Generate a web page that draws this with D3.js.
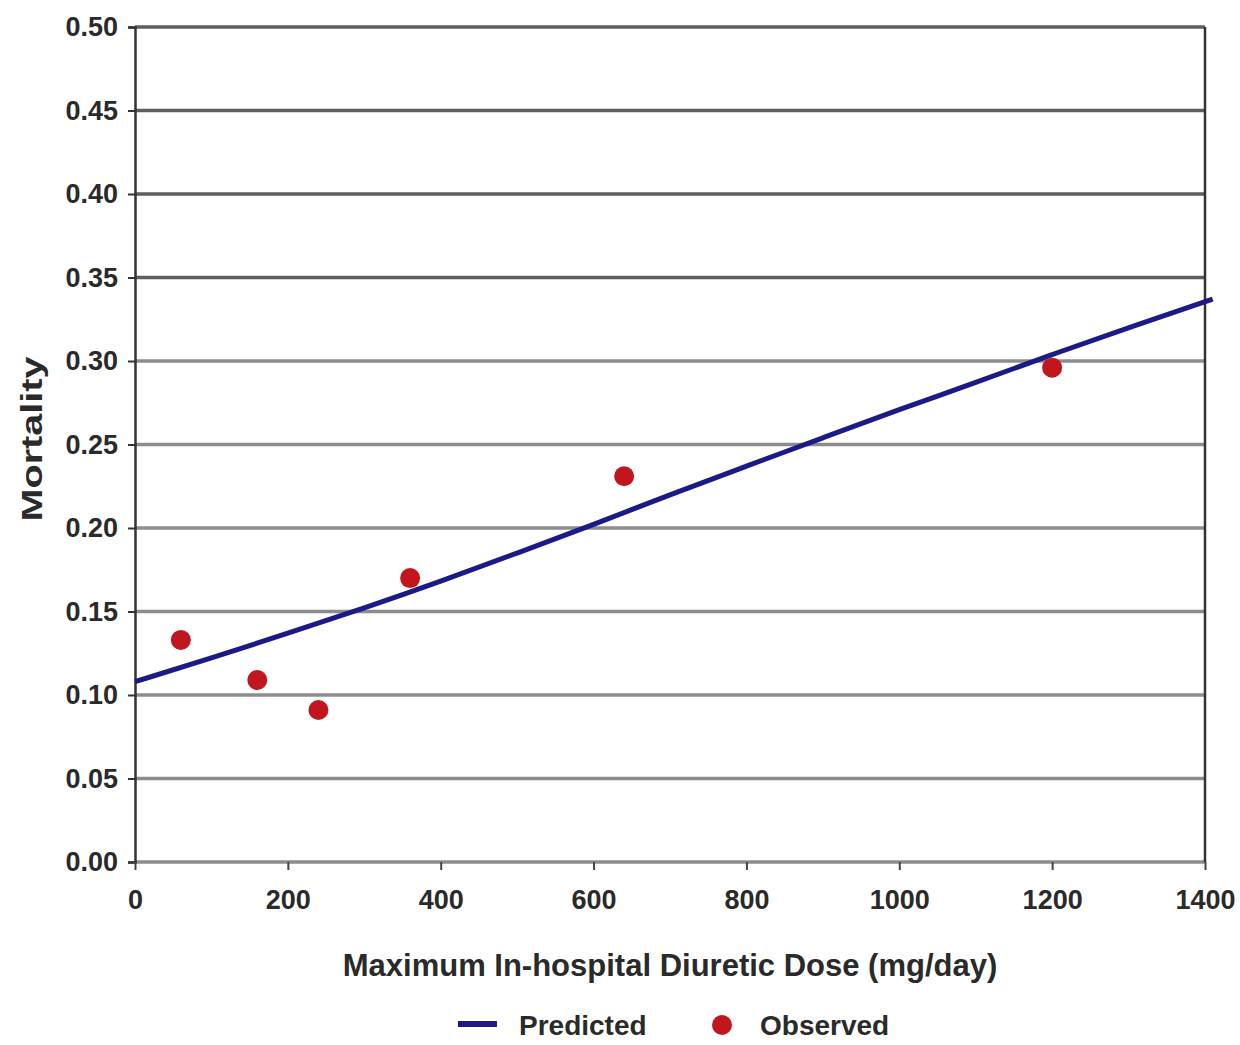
<!DOCTYPE html>
<html>
<head>
<meta charset="utf-8">
<script src="https://cdn.jsdelivr.net/npm/d3@7"></script>
<style>
  body { margin: 0; background: #fff; }
  text { font-family: "Liberation Sans", Arial, sans-serif; font-weight: bold; fill: #2a2a2a; }
</style>
</head>
<body>
<div id="chart"></div>
<script>
// tick values
var xTicks = [0, 200, 400, 600, 800, 1000, 1200, 1400];
var yTicks = [0, 0.05, 0.10, 0.15, 0.20, 0.25, 0.30, 0.35, 0.40, 0.45, 0.50];

// observed points (dose, mortality)
var obsDose = [60, 160, 240, 360, 640, 1200];
var obsMort = [0.133, 0.109, 0.091, 0.170, 0.231, 0.296];

// predicted curve
var predDose = [0, 100, 200, 300, 400, 500, 600, 700, 800, 900, 1000, 1100, 1200, 1300, 1410];
var predMort = [0.108, 0.122, 0.137, 0.152, 0.168, 0.185, 0.202, 0.220, 0.237, 0.254, 0.271, 0.287, 0.304, 0.320, 0.337];

var width = 1240, height = 1045;
var margin = {left: 135, right: 35, top: 27, bottom: 183};

var svg = d3.select("#chart").append("svg")
    .attr("width", width)
    .attr("height", height);

var x = d3.scaleLinear().domain([0, 1400]).range([margin.left, width - margin.right]);
var y = d3.scaleLinear().domain([0, 0.5]).range([height - margin.bottom, margin.top]);

// gridlines
svg.append("g").selectAll("line")
    .data(yTicks)
    .enter().append("line")
    .attr("x1", x(0)).attr("x2", x(1400))
    .attr("y1", function(d){ return y(d); })
    .attr("y2", function(d){ return y(d); })
    .attr("stroke", function(d){ return d >= 0.35 ? "#5e5e5e" : "#8c8c8c"; })
    .attr("stroke-width", 3.5);

// y axis
var yAxis = svg.append("g")
    .attr("transform", "translate(" + x(0) + ",0)")
    .call(d3.axisLeft(y).tickValues(yTicks).tickFormat(d3.format(".2f")).tickSize(7).tickPadding(10));
yAxis.select(".domain").attr("stroke", "#333").attr("stroke-width", 2.5);
yAxis.selectAll(".tick line").attr("stroke", "#333").attr("stroke-width", 2);
yAxis.selectAll("text").style("font-size", "27px").attr("fill", "#2a2a2a");

// x axis
var xAxis = svg.append("g")
    .attr("transform", "translate(0," + y(0) + ")")
    .call(d3.axisBottom(x).tickValues(xTicks).tickFormat(d3.format("d")).tickSize(8).tickPadding(20));
xAxis.select(".domain").remove();
xAxis.selectAll(".tick line").attr("stroke", "#444").attr("stroke-width", 2);
xAxis.selectAll("text").style("font-size", "27px").attr("fill", "#2a2a2a");

// right border
svg.append("line")
    .attr("x1", x(1400)).attr("x2", x(1400))
    .attr("y1", y(0.5)).attr("y2", y(0))
    .attr("stroke", "#333").attr("stroke-width", 2.5);

// predicted line
var line = d3.line()
    .x(function(d, i){ return x(predDose[i]); })
    .y(function(d){ return y(d); })
    .curve(d3.curveBasis);

svg.append("path")
    .datum(predMort)
    .attr("d", line)
    .attr("fill", "none")
    .attr("stroke", "#1c1a86")
    .attr("stroke-width", 5);

// observed points
svg.append("g").selectAll("circle")
    .data(obsMort)
    .enter().append("circle")
    .attr("cx", function(d, i){ return x(obsDose[i]); })
    .attr("cy", function(d){ return y(d); })
    .attr("r", 10)
    .attr("fill", "#c2161e");

// axis titles
svg.append("text")
    .attr("x", (x(0) + x(1400)) / 2)
    .attr("y", 976)
    .attr("text-anchor", "middle")
    .style("font-size", "31px")
    .text("Maximum In-hospital Diuretic Dose (mg/day)");

svg.append("text")
    .attr("transform", "translate(42,439) rotate(-90)")
    .attr("text-anchor", "middle")
    .attr("textLength", 165)
    .attr("lengthAdjust", "spacingAndGlyphs")
    .style("font-size", "30px")
    .text("Mortality");

// legend
var legend = svg.append("g");
legend.append("line")
    .attr("x1", 458).attr("x2", 497)
    .attr("y1", 1024).attr("y2", 1024)
    .attr("stroke", "#1c1a86").attr("stroke-width", 6);
legend.append("text")
    .attr("x", 519).attr("y", 1035)
    .style("font-size", "28px")
    .text("Predicted");
legend.append("circle")
    .attr("cx", 722).attr("cy", 1025).attr("r", 10)
    .attr("fill", "#c2161e");
legend.append("text")
    .attr("x", 760).attr("y", 1035)
    .style("font-size", "28px")
    .text("Observed");
</script>
</body>
</html>
